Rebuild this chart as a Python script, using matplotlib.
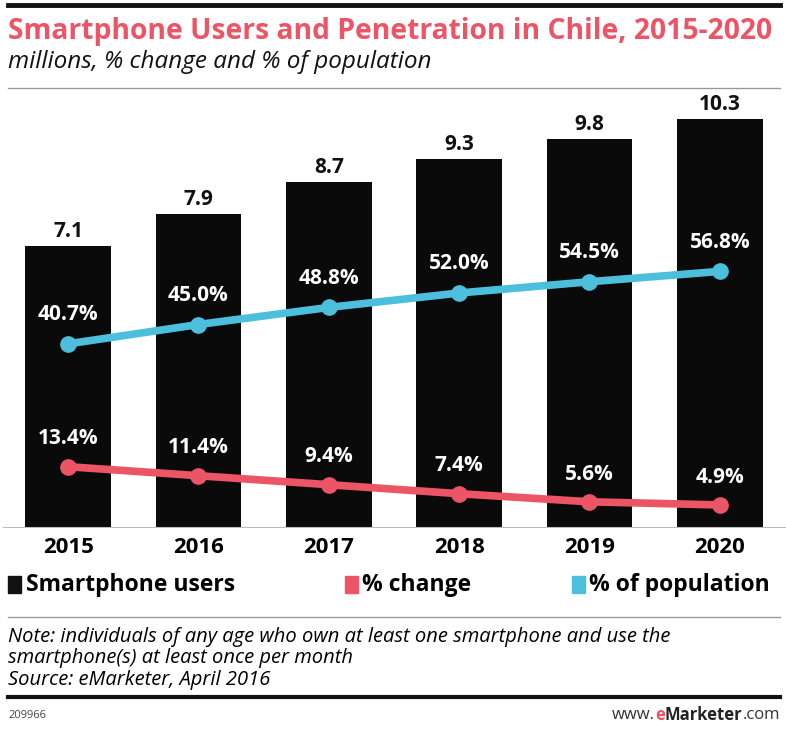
import matplotlib.pyplot as plt
import numpy as np

years = ['2015', '2016', '2017', '2018', '2019', '2020']
users = [7.1, 7.9, 8.7, 9.3, 9.8, 10.3]
pct_change = [13.4, 11.4, 9.4, 7.4, 5.6, 4.9]
pct_pop = [40.7, 45.0, 48.8, 52.0, 54.5, 56.8]

pink = '#ec5566'
blue = '#4cbfdc'
plt.rcParams['font.family'] = ['Open Sans', 'DejaVu Sans']

fig = plt.figure(figsize=(7.86, 7.29), dpi=100)
W, H = 786, 729

def fy(y):
    return 1 - y / H

# axes: left 3, right 785, top 100, bottom 527 (pixels)
ax = fig.add_axes([3 / W, fy(527), 782 / W, 427 / H])
x = np.arange(len(years))
ax.bar(x, users, width=0.655, color='#0a0a0a', zorder=1)
ax.set_ylim(0, 427 / 39.6)
ax.set_xlim(-0.5, len(years) - 0.5)
for i, v in enumerate(users):
    ax.annotate(f'{v:.1f}', (i, v), xytext=(0, 10.5), textcoords='offset points',
                ha='center', va='center', fontsize=15, fontweight='bold', color='#111')

ax2 = ax.twinx()
ax2.set_ylim(0, 427 / 4.5)
ax2.plot(x, pct_pop, color=blue, lw=5.5, marker='o', ms=11, zorder=3)
ax2.plot(x, pct_change, color=pink, lw=5.5, marker='o', ms=11, zorder=3)
for i in range(len(years)):
    ax2.annotate(f'{pct_pop[i]:.1f}%', (i, pct_pop[i]), xytext=(0, 21),
                 textcoords='offset points', ha='center', va='center',
                 fontsize=15, fontweight='bold', color='white')
    ax2.annotate(f'{pct_change[i]:.1f}%', (i, pct_change[i]), xytext=(0, 20),
                 textcoords='offset points', ha='center', va='center',
                 fontsize=15, fontweight='bold', color='white')

for a in (ax, ax2):
    for s in a.spines.values():
        s.set_visible(False)
    a.set_yticks([])
ax.spines['bottom'].set_visible(True)
ax.spines['bottom'].set_color('#bbbbbb')
ax.set_xticks(x)
ax.set_xticklabels(years, fontsize=16, fontweight='bold')
ax.tick_params(axis='x', length=0, pad=7)

# header
fig.add_artist(plt.Line2D([8 / W, 780 / W], [fy(5), fy(5)], color='#111', lw=3.5))
fig.text(8 / W, fy(31), 'Smartphone Users and Penetration in Chile, 2015-2020',
         fontsize=20.3, fontweight='bold', color=pink, va='center')
fig.text(8 / W, fy(62), 'millions, % change and % of population',
         fontsize=17.5, style='italic', color='#111', va='center')
fig.add_artist(plt.Line2D([8 / W, 780 / W], [fy(88), fy(88)], color='#999', lw=1))

# legend
ly = fy(585)
fig.patches.append(plt.Rectangle((8 / W, ly - 8 / H), 13 / W, 17 / H, color='#111',
                                 transform=fig.transFigure))
fig.text(26 / W, ly, 'Smartphone users', fontsize=16.5, fontweight='bold', va='center')
fig.patches.append(plt.Rectangle((345 / W, ly - 8 / H), 13 / W, 17 / H, color=pink,
                                 transform=fig.transFigure))
fig.text(362 / W, ly, '% change', fontsize=16.5, fontweight='bold', va='center')
fig.patches.append(plt.Rectangle((572 / W, ly - 8 / H), 13 / W, 17 / H, color=blue,
                                 transform=fig.transFigure))
fig.text(589 / W, ly, '% of population', fontsize=16.5, fontweight='bold', va='center')

# footer
fig.add_artist(plt.Line2D([8 / W, 780 / W], [fy(617), fy(617)], color='#999', lw=1))
fig.text(8 / W, fy(637), 'Note: individuals of any age who own at least one smartphone and use the',
         fontsize=14.5, style='italic', va='center')
fig.text(8 / W, fy(658), 'smartphone(s) at least once per month',
         fontsize=14.5, style='italic', va='center')
fig.text(8 / W, fy(680), 'Source: eMarketer, April 2016',
         fontsize=14.5, style='italic', va='center')
fig.add_artist(plt.Line2D([8 / W, 780 / W], [fy(697), fy(697)], color='#111', lw=3))
fig.text(8 / W, fy(715), '209966', fontsize=8, color='#444', va='center')

# www.eMarketer.com, built right to left
r = fig.canvas.get_renderer()
xr = 780
for txt, col, wt in [('.com', '#333', 'normal'), ('Marketer', '#222', 'bold'),
                     ('e', pink, 'bold'), ('www.', '#333', 'normal')]:
    t = fig.text(xr / W, fy(715), txt, fontsize=12, color=col, fontweight=wt,
                 va='center', ha='right')
    xr -= t.get_window_extent(r).width

fig.savefig('out.png', dpi=100)
